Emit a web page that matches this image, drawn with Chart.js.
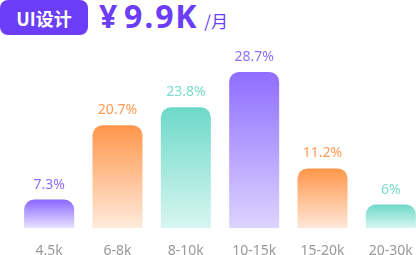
<!DOCTYPE html>
<html>
<head>
<meta charset="utf-8">
<script src="https://cdn.jsdelivr.net/npm/chart.js"></script>
<style>
  html, body { margin: 0; padding: 0; background: #fff; }
  body { width: 416px; height: 255px; position: relative; overflow: hidden; font-family: "Noto Sans", "Noto Sans CJK SC", sans-serif; }
  .badge {
    position: absolute; left: 0; top: 0; width: 88px; height: 35px;
    background: #6b3df6; border-radius: 8px; color: #fff;
    font: bold 18px "Noto Sans CJK SC", "Noto Sans", sans-serif;
    display: flex; align-items: center; justify-content: center;
  }
  .salary { position: absolute; left: 99px; top: -6px; color: #6b3df6; white-space: nowrap; }
  .salary .num { font: bold 32px "Open Sans", "Noto Sans", sans-serif; letter-spacing: 1.8px; }
  .salary .yen { margin-right: 5px; }
  .salary .unit { font: 17px "Noto Sans CJK SC", sans-serif; margin-left: 6px; }
  .wrap { position: absolute; left: 15px; top: 40px; width: 410px; height: 225px; }
</style>
</head>
<body>
<div class="badge">UI设计</div>
<div class="salary"><span class="num"><span class="yen">¥</span>9.9K</span><span class="unit">/月</span></div>
<div class="wrap"><canvas id="salaryChart"></canvas></div>
<script>
// 薪资区间（x 轴）
const ranges = ['4.5k', '6-8k', '8-10k', '10-15k', '15-20k', '20-30k'];
// 柱子高度
const barValues = [5.26, 18.9, 22.2, 28.7, 10.98, 4.34];
// 柱顶百分比文字
const shareLabels = ['7.3%', '20.7%', '23.8%', '28.7%', '11.2%', '6%'];
// 配色：顶部 / 底部 / 文字
const topColors = ['#8b66ff', '#ff964a', '#6dd9c9', '#8f6dff', '#ff964a', '#6dd9c9'];
const bottomColors = ['#e9e2ff', '#ffebdd', '#d8f6f0', '#ddd4ff', '#ffe8d9', '#d8f6f0'];
const textColors = ['#8f6eff', '#ff9a52', '#7adccd', '#8f6eff', '#ff9a52', '#7adccd'];

const valueLabels = {
  id: 'valueLabels',
  afterDatasetsDraw(chart) {
    const { ctx } = chart;
    const meta = chart.getDatasetMeta(0);
    ctx.save();
    ctx.font = '14px "Noto Sans", sans-serif';
    ctx.textAlign = 'center';
    ctx.textBaseline = 'middle';
    meta.data.forEach((bar, i) => {
      ctx.fillStyle = textColors[i];
      ctx.fillText(shareLabels[i], bar.x, bar.y - 15);
    });
    ctx.restore();
  }
};

function barGradient(c) {
  const chart = c.chart;
  if (!chart.chartArea) return topColors[c.dataIndex];
  const y = chart.scales.y;
  const top = y.getPixelForValue(barValues[c.dataIndex]);
  const bottom = y.getPixelForValue(0);
  const g = chart.ctx.createLinearGradient(0, top, 0, bottom);
  g.addColorStop(0, topColors[c.dataIndex]);
  g.addColorStop(1, bottomColors[c.dataIndex]);
  return g;
}

new Chart(document.getElementById('salaryChart'), {
  type: 'bar',
  data: {
    labels: ranges,
    datasets: [{
      data: barValues,
      backgroundColor: barGradient,
      borderRadius: 10,
      borderSkipped: 'start',
      categoryPercentage: 1,
      barPercentage: 0.732
    }]
  },
  options: {
    responsive: true,
    maintainAspectRatio: false,
    animation: false,
    layout: { padding: { top: 2, left: 0, right: 0, bottom: 0 } },
    plugins: { legend: { display: false }, tooltip: { enabled: false } },
    scales: {
      x: {
        grid: { display: false },
        border: { display: false },
        ticks: { color: '#999', padding: 6, font: { size: 14, family: '"Noto Sans", sans-serif' } }
      },
      y: { display: false, min: 0, max: 34.2 }
    }
  },
  plugins: [valueLabels]
});
</script>
</body>
</html>
